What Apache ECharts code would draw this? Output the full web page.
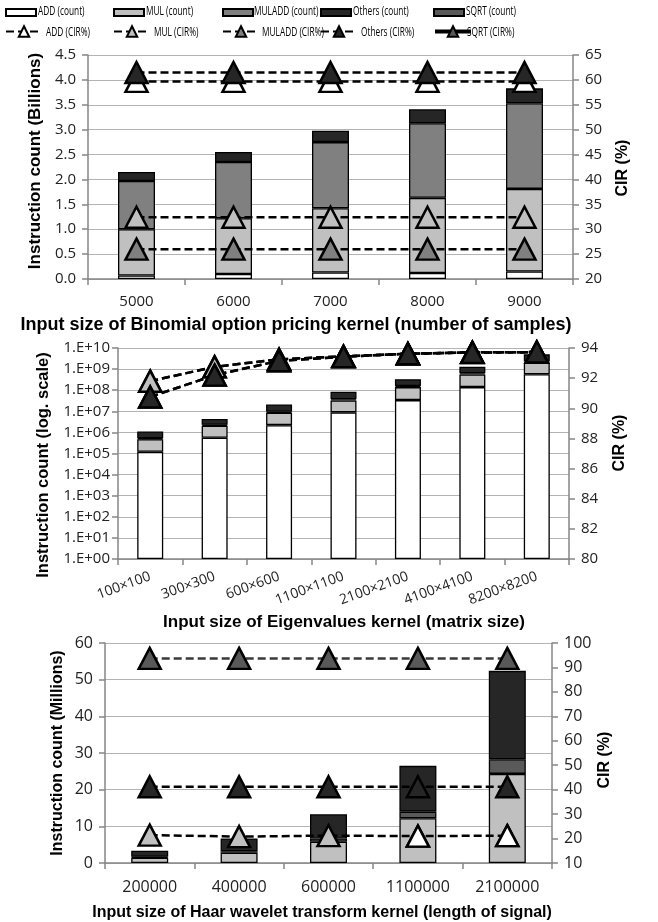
<!DOCTYPE html>
<html>
<head>
<meta charset="utf-8">
<script src="https://cdn.jsdelivr.net/npm/echarts@6/dist/echarts.min.js"></script>
<style>
html,body{margin:0;padding:0;background:#fff;}
#chart{width:658px;height:922px;}
</style>
</head>
<body>
<div id="chart"></div>
<script>
// ---------- Binomial option pricing (Billions / CIR %) ----------
const binomialCats = ['5000', '6000', '7000', '8000', '9000'];
const binomialAdd = [0.07, 0.10, 0.13, 0.12, 0.15];
const binomialMul = [0.93, 1.12, 1.29, 1.51, 1.66];
const binomialMuladd = [0.97, 1.13, 1.33, 1.50, 1.72];
const binomialOthers = [0.18, 0.20, 0.23, 0.28, 0.30];
const binomialCirAdd = [59.7, 59.7, 59.7, 59.7, 59.7];
const binomialCirMul = [32.4, 32.4, 32.4, 32.4, 32.4];
const binomialCirMuladd = [26.0, 26.0, 26.0, 26.0, 26.0];
const binomialCirOthers = [61.5, 61.5, 61.5, 61.5, 61.5];

// ---------- Eigenvalues (log count / CIR %) ----------
const eigenCats = ['100×100', '300×300', '600×600', '1100×1100', '2100×2100', '4100×4100', '8200×8200'];
const eigenAdd = [1.2e5, 5.6e5, 2.2e6, 8.9e6, 3.4e7, 1.4e8, 5.7e8];
const eigenMul = [3.5e5, 1.5e6, 6.3e6, 2.4e7, 1.06e8, 4.2e8, 1.43e9];
const eigenMuladd = [6e4, 2.5e5, 1.0e6, 4e6, 1.7e7, 7e7, 3e8];
const eigenOthers = [5.7e5, 2.0e6, 1.15e7, 4.8e7, 1.73e8, 6.7e8, 2.7e9];
const eigenCirAdd = [91.8, 92.75, 93.25, 93.45, 93.62, 93.70, 93.72];
const eigenCirMul = [91.8, 92.75, 93.25, 93.45, 93.62, 93.70, 93.72];
const eigenCirMuladd = [90.75, 92.2, 93.15, 93.42, 93.62, 93.71, 93.73];
const eigenCirOthers = [90.75, 92.2, 93.15, 93.42, 93.62, 93.71, 93.73];

// ---------- Haar wavelet (Millions / CIR %) ----------
const haarCats = ['200000', '400000', '600000', '1100000', '2100000'];
const haarMul = [1.45, 2.8, 5.8, 12.2, 24.3];
const haarSqrt = [0.25, 0.4, 0.9, 1.8, 4.0];
const haarOthers = [1.65, 3.5, 6.6, 12.5, 24.1];
const haarCirMul = [21.4, 20.8, 21.2, 21.0, 21.2];
const haarCirAdd = [null, null, null, 21.0, 21.2];
const haarCirOthers = [41.2, 41.2, 41.2, 41.2, 41.2];
const haarCirSqrt = [93.7, 93.7, 93.7, 93.7, 93.7];

// ---------- Legend entries ----------
const countNames = ['ADD (count)', 'MUL (count)', 'MULADD (count)', 'Others (count)', 'SQRT (count)'];
const cirNames = ['ADD (CIR%)', 'MUL (CIR%)', 'MULADD (CIR%)', 'Others (CIR%)', 'SQRT (CIR%)'];

const C_ADD = '#ffffff', C_MUL = '#c0c0c0', C_MULADD = '#808080', C_OTH = '#262626', C_SQRT = '#595959';
const TICK_FONT = "'Open Sans', sans-serif";
const TITLE_FONT = "'Liberation Sans', Arial, sans-serif";
const AX = '#868686';
const GRIDC = '#b3b3b3';

function bar(name, data, color, gi, width) {
  return {
    name, type: 'bar', xAxisIndex: gi, yAxisIndex: gi * 2, stack: 's' + gi, data,
    barWidth: width, itemStyle: { color, borderColor: '#000', borderWidth: 1.3 }, z: 2
  };
}
function cir(name, data, fill, gi, lineColor, z, noLine) {
  return {
    name, type: 'line', xAxisIndex: gi, yAxisIndex: gi * 2 + 1, data,
    symbol: 'triangle', symbolSize: [22, 21], showSymbol: true, showAllSymbol: true,
    connectNulls: false,
    lineStyle: { color: lineColor || '#000', width: 2.5, type: [8, 4], opacity: noLine ? 0 : 1 },
    itemStyle: { color: fill, borderColor: '#000', borderWidth: 2.5 },
    z: z || 3
  };
}

function xAx(gi, data, label) {
  return {
    gridIndex: gi, type: 'category', data, boundaryGap: true,
    axisLine: { show: true, lineStyle: { color: AX, width: 1.5 } },
    axisTick: { show: true, length: 6, inside: false, lineStyle: { color: AX, width: 1.5 } },
    axisLabel: Object.assign({ color: '#222', fontFamily: TICK_FONT, interval: 0 }, label),
    splitLine: { show: false }
  };
}
function yAx(gi, pos, extra, label, split) {
  return Object.assign({
    gridIndex: gi, type: 'value', position: pos,
    axisLine: { show: true, lineStyle: { color: AX, width: 1.5 } },
    axisTick: { show: true, length: 6, inside: false, lineStyle: { color: AX, width: 1.5 } },
    axisLabel: Object.assign({ color: '#222', fontFamily: TICK_FONT }, label),
    splitLine: { show: !!split, lineStyle: { color: GRIDC, width: 1.2 } }
  }, extra);
}

// legend icon columns and label starts
const legendCols = [5, 113, 222, 320, 433];
const countTextX = [38, 146, 254, 353, 466];
const cirTextX = [46, 154, 262, 361, 467];
const legends = [];
const legendTexts = [];
function legendLabel(text, x, y) {
  return { type: 'text', x, y, scaleX: 0.64,
    style: { text, font: "13px 'Open Sans', sans-serif", fill: '#000', align: 'left', verticalAlign: 'middle',
      textAlign: 'left', textVerticalAlign: 'middle' } };
}
countNames.forEach((n, i) => {
  legends.push({
    data: [n], left: legendCols[i], top: 8, icon: 'rect', itemWidth: 30, itemHeight: 7,
    formatter: () => '', textStyle: { fontSize: 1 }, selectedMode: false, padding: 0
  });
  legendTexts.push(legendLabel(n, countTextX[i], 11.5));
});
cirNames.forEach((n, i) => {
  legends.push({
    data: [i === 4 ? { name: n, lineStyle: { type: 'solid', color: '#000', width: 4 } } : n],
    left: legendCols[i], top: 25, itemWidth: 36, itemHeight: 13,
    formatter: () => '', textStyle: { fontSize: 1 }, selectedMode: false, padding: 0
  });
  legendTexts.push(legendLabel(n, cirTextX[i], 32));
});

function title(text, x, y, size, rot) {
  return {
    type: 'text', x, y, rotation: rot || 0,
    style: {
      text, font: 'bold ' + size + 'px ' + TITLE_FONT, fill: '#000',
      align: 'center', verticalAlign: 'middle', textAlign: 'center', textVerticalAlign: 'middle'
    }
  };
}

const option = {
  animation: false,
  backgroundColor: '#fff',
  legend: legends,
  grid: [
    { left: 88, top: 55, width: 485, height: 224 },
    { left: 118, top: 348, width: 451, height: 211 },
    { left: 105, top: 643, width: 447, height: 220 }
  ],
  xAxis: [
    xAx(0, binomialCats, { fontSize: 15, margin: 15 }),
    xAx(1, eigenCats, { fontSize: 14, margin: 17, rotate: 20 }),
    xAx(2, haarCats, { fontSize: 16, margin: 16 })
  ],
  yAxis: [
    yAx(0, 'left', { min: 0, max: 4.5, interval: 0.5 }, { fontSize: 15, margin: 12, formatter: v => v.toFixed(1) }, true),
    yAx(0, 'right', { min: 20, max: 65, interval: 5 }, { fontSize: 15, margin: 12 }, false),
    yAx(1, 'left', { type: 'log', logBase: 10, min: 1, max: 1e10, interval: 1, splitNumber: 10 },
      { fontSize: 15, margin: 8, formatter: v => '1.E+' + String(Math.round(Math.log10(v))).padStart(2, '0') }, true),
    yAx(1, 'right', { min: 80, max: 94, interval: 2 }, { fontSize: 15, margin: 12 }, false),
    yAx(2, 'left', { min: 0, max: 60, interval: 10 }, { fontSize: 16, margin: 12 }, true),
    yAx(2, 'right', { min: 10, max: 100, interval: 10 }, { fontSize: 16, margin: 12 }, false)
  ],
  series: [
    bar('ADD (count)', binomialAdd, C_ADD, 0, 37),
    bar('MUL (count)', binomialMul, C_MUL, 0, 37),
    bar('MULADD (count)', binomialMuladd, C_MULADD, 0, 37),
    bar('Others (count)', binomialOthers, C_OTH, 0, 37),
    cir('ADD (CIR%)', binomialCirAdd, C_ADD, 0),
    cir('MUL (CIR%)', binomialCirMul, C_MUL, 0),
    cir('MULADD (CIR%)', binomialCirMuladd, C_MULADD, 0),
    cir('Others (CIR%)', binomialCirOthers, C_OTH, 0),

    bar('ADD (count)', eigenAdd, C_ADD, 1, 26),
    bar('MUL (count)', eigenMul, C_MUL, 1, 26),
    bar('MULADD (count)', eigenMuladd, C_MULADD, 1, 26),
    bar('Others (count)', eigenOthers, C_OTH, 1, 26),
    cir('ADD (CIR%)', eigenCirAdd, C_ADD, 1),
    cir('MUL (CIR%)', eigenCirMul, C_MUL, 1),
    cir('MULADD (CIR%)', eigenCirMuladd, C_MULADD, 1),
    cir('Others (CIR%)', eigenCirOthers, C_OTH, 1),

    bar('MUL (count)', haarMul, C_MUL, 2, 37),
    bar('SQRT (count)', haarSqrt, C_SQRT, 2, 37),
    bar('Others (count)', haarOthers, C_OTH, 2, 37),
    cir('MUL (CIR%)', haarCirMul, C_MUL, 2),
    cir('ADD (CIR%)', haarCirAdd, C_ADD, 2, '#000', 4, true),
    cir('Others (CIR%)', haarCirOthers, C_OTH, 2),
    cir('SQRT (CIR%)', haarCirSqrt, C_SQRT, 2, '#3a3a3a')
  ],
  graphic: legendTexts.concat([
    title('Instruction count (Billions)', 35, 161, 17, Math.PI / 2),
    title('CIR (%)', 623, 168, 16, Math.PI / 2),
    title('Input size of Binomial option pricing kernel (number of samples)', 296, 325, 18, 0),
    title('Instruction count (log. scale)', 43, 465, 16.5, Math.PI / 2),
    title('CIR (%)', 620, 443, 16, Math.PI / 2),
    title('Input size of Eigenvalues kernel (matrix size)', 344, 622, 17, 0),
    title('Instruction count (Millions)', 58, 753, 16, Math.PI / 2),
    title('CIR (%)', 605, 760, 16, Math.PI / 2),
    title('Input size of Haar wavelet transform kernel (length of signal)', 322, 913, 16, 0)
  ])
};

const chart = echarts.init(document.getElementById('chart'), null, { renderer: 'canvas' });
chart.setOption(option);
</script>
</body>
</html>
